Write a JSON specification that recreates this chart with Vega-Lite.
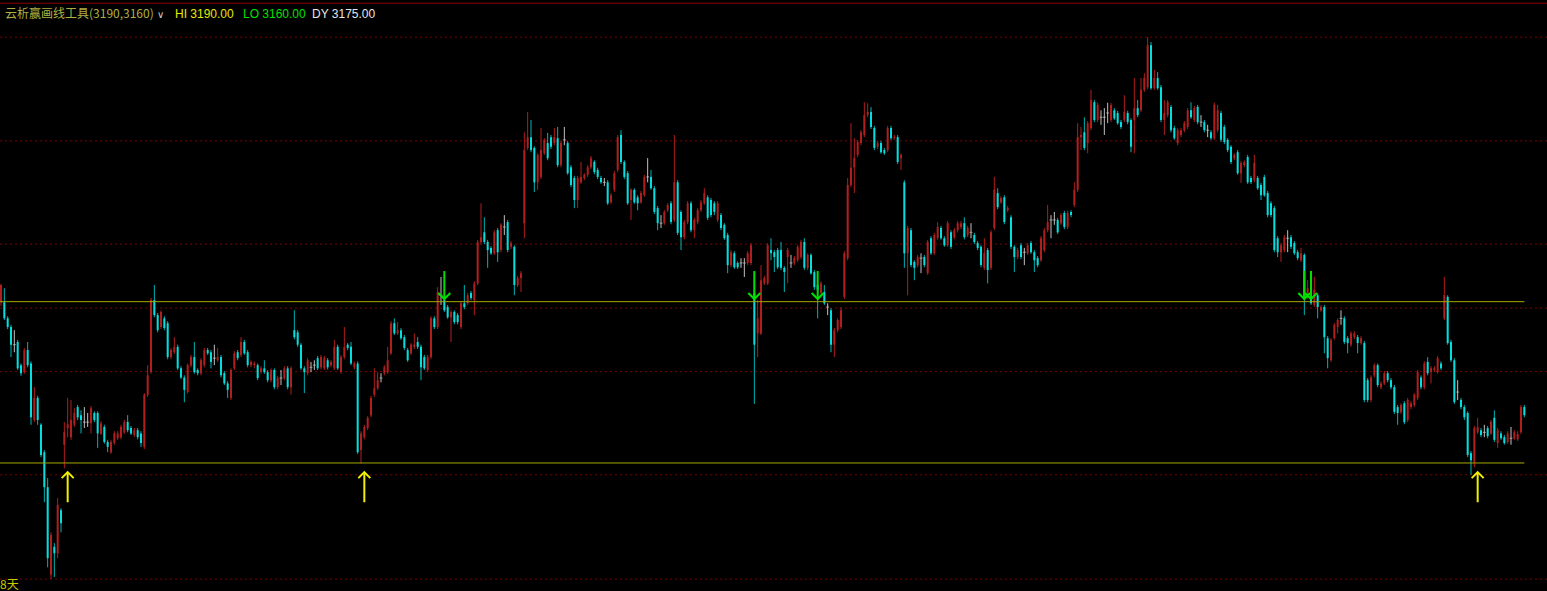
{
"$schema": "https://vega.github.io/schema/vega-lite/v6.json",
"width": 1547, "height": 591, "autosize": {"type": "none"}, "padding": 0,
"background": "#000000",
"config": {"view": {"stroke": null}, "scale": {"continuousPadding": 0}},
"datasets": {
"k": [
{"t":0,"o":3189.9,"h":3193.3,"l":3189.2,"c":3193.1},
{"t":1,"o":3189.9,"h":3192.5,"l":3186.6,"c":3186.9},
{"t":2,"o":3186.9,"h":3187.3,"l":3184.9,"c":3185.3},
{"t":3,"o":3185.3,"h":3185.7,"l":3179.7,"c":3182.0},
{"t":4,"o":3182.0,"h":3184.7,"l":3180.6,"c":3182.0},
{"t":5,"o":3182.5,"h":3182.9,"l":3177.3,"c":3177.6},
{"t":6,"o":3178.2,"h":3178.5,"l":3176.2,"c":3176.7},
{"t":7,"o":3176.9,"h":3181.4,"l":3176.6,"c":3181.0},
{"t":8,"o":3181.0,"h":3182.5,"l":3177.8,"c":3178.2},
{"t":9,"o":3178.5,"h":3178.9,"l":3167.1,"c":3168.5},
{"t":10,"o":3168.0,"h":3174.1,"l":3167.6,"c":3172.1},
{"t":11,"o":3172.1,"h":3172.5,"l":3167.1,"c":3168.0},
{"t":12,"o":3167.1,"h":3167.4,"l":3161.1,"c":3161.5},
{"t":13,"o":3162.0,"h":3162.4,"l":3152.7,"c":3155.5},
{"t":14,"o":3155.5,"h":3157.2,"l":3140.6,"c":3142.3},
{"t":15,"o":3139.2,"h":3147.1,"l":3138.4,"c":3146.6},
{"t":16,"o":3144.4,"h":3145.1,"l":3138.8,"c":3143.2},
{"t":17,"o":3143.2,"h":3153.5,"l":3142.3,"c":3152.2},
{"t":18,"o":3151.2,"h":3151.6,"l":3147.1,"c":3148.8},
{"t":19,"o":3163.4,"h":3167.6,"l":3159.0,"c":3165.7},
{"t":20,"o":3166.5,"h":3172.1,"l":3164.8,"c":3167.2},
{"t":21,"o":3164.8,"h":3171.7,"l":3164.3,"c":3168.0},
{"t":22,"o":3167.1,"h":3170.2,"l":3166.7,"c":3169.3},
{"t":23,"o":3170.4,"h":3170.8,"l":3168.0,"c":3168.5},
{"t":24,"o":3168.9,"h":3169.8,"l":3165.5,"c":3168.0},
{"t":25,"o":3167.6,"h":3170.4,"l":3166.5,"c":3167.6},
{"t":26,"o":3167.6,"h":3169.3,"l":3166.7,"c":3167.6},
{"t":27,"o":3167.4,"h":3170.6,"l":3165.5,"c":3170.2},
{"t":28,"o":3169.3,"h":3169.6,"l":3167.6,"c":3168.0},
{"t":29,"o":3169.3,"h":3169.6,"l":3162.8,"c":3165.5},
{"t":30,"o":3165.5,"h":3167.8,"l":3165.2,"c":3167.4},
{"t":31,"o":3166.7,"h":3167.1,"l":3163.6,"c":3163.9},
{"t":32,"o":3163.9,"h":3164.3,"l":3162.0,"c":3163.0},
{"t":33,"o":3162.0,"h":3164.3,"l":3161.7,"c":3163.9},
{"t":34,"o":3163.7,"h":3165.9,"l":3163.4,"c":3165.5},
{"t":35,"o":3164.6,"h":3165.9,"l":3164.3,"c":3165.5},
{"t":36,"o":3164.8,"h":3167.1,"l":3164.4,"c":3166.7},
{"t":37,"o":3165.7,"h":3168.0,"l":3165.4,"c":3167.6},
{"t":38,"o":3167.6,"h":3168.9,"l":3165.7,"c":3166.1},
{"t":39,"o":3166.5,"h":3166.9,"l":3165.2,"c":3165.5},
{"t":40,"o":3165.2,"h":3166.5,"l":3164.8,"c":3166.1},
{"t":41,"o":3166.1,"h":3166.5,"l":3164.4,"c":3164.8},
{"t":42,"o":3165.5,"h":3165.9,"l":3163.0,"c":3163.7},
{"t":43,"o":3163.0,"h":3173.0,"l":3162.6,"c":3172.7},
{"t":44,"o":3172.7,"h":3178.2,"l":3172.3,"c":3176.3},
{"t":45,"o":3176.9,"h":3190.7,"l":3176.6,"c":3190.3},
{"t":46,"o":3190.3,"h":3193.1,"l":3187.1,"c":3187.5},
{"t":47,"o":3187.5,"h":3187.9,"l":3184.3,"c":3184.7},
{"t":48,"o":3185.3,"h":3188.4,"l":3184.9,"c":3188.1},
{"t":49,"o":3186.9,"h":3187.3,"l":3184.7,"c":3185.1},
{"t":50,"o":3186.0,"h":3186.4,"l":3179.3,"c":3179.7},
{"t":51,"o":3179.7,"h":3181.4,"l":3179.3,"c":3181.0},
{"t":52,"o":3180.6,"h":3183.4,"l":3180.3,"c":3181.6},
{"t":53,"o":3181.6,"h":3182.0,"l":3177.3,"c":3177.6},
{"t":54,"o":3177.6,"h":3178.0,"l":3175.6,"c":3175.9},
{"t":55,"o":3175.9,"h":3176.3,"l":3171.3,"c":3173.6},
{"t":56,"o":3173.2,"h":3178.5,"l":3172.9,"c":3178.2},
{"t":57,"o":3178.2,"h":3180.1,"l":3177.8,"c":3179.7},
{"t":58,"o":3179.7,"h":3182.5,"l":3176.6,"c":3176.9},
{"t":59,"o":3177.3,"h":3177.6,"l":3176.3,"c":3176.7},
{"t":60,"o":3176.7,"h":3179.5,"l":3176.3,"c":3179.1},
{"t":61,"o":3178.2,"h":3181.4,"l":3177.8,"c":3181.0},
{"t":62,"o":3181.0,"h":3181.4,"l":3180.1,"c":3180.4},
{"t":63,"o":3180.6,"h":3181.0,"l":3177.6,"c":3178.8},
{"t":64,"o":3179.5,"h":3182.0,"l":3178.2,"c":3179.5},
{"t":65,"o":3179.1,"h":3181.4,"l":3178.8,"c":3179.7},
{"t":66,"o":3179.7,"h":3180.1,"l":3175.9,"c":3176.3},
{"t":67,"o":3176.7,"h":3177.1,"l":3174.5,"c":3174.8},
{"t":68,"o":3174.8,"h":3175.2,"l":3172.1,"c":3173.6},
{"t":69,"o":3172.1,"h":3177.6,"l":3171.7,"c":3177.3},
{"t":70,"o":3177.6,"h":3180.8,"l":3177.3,"c":3180.4},
{"t":71,"o":3180.6,"h":3181.0,"l":3179.1,"c":3179.5},
{"t":72,"o":3180.1,"h":3183.4,"l":3179.7,"c":3182.5},
{"t":73,"o":3182.5,"h":3182.9,"l":3180.1,"c":3180.4},
{"t":74,"o":3180.6,"h":3181.0,"l":3177.8,"c":3178.2},
{"t":75,"o":3178.2,"h":3179.1,"l":3177.8,"c":3178.8},
{"t":76,"o":3178.2,"h":3178.9,"l":3177.6,"c":3178.5},
{"t":77,"o":3178.2,"h":3178.5,"l":3175.4,"c":3175.8},
{"t":78,"o":3176.9,"h":3178.0,"l":3176.6,"c":3177.6},
{"t":79,"o":3177.6,"h":3179.1,"l":3176.6,"c":3176.9},
{"t":80,"o":3176.9,"h":3177.3,"l":3175.0,"c":3175.4},
{"t":81,"o":3175.4,"h":3177.6,"l":3175.0,"c":3177.3},
{"t":82,"o":3177.3,"h":3177.6,"l":3173.7,"c":3174.1},
{"t":83,"o":3174.1,"h":3176.2,"l":3173.7,"c":3175.8},
{"t":84,"o":3175.8,"h":3177.3,"l":3174.5,"c":3175.8},
{"t":85,"o":3175.8,"h":3178.0,"l":3175.4,"c":3177.6},
{"t":86,"o":3177.6,"h":3178.0,"l":3173.7,"c":3174.1},
{"t":87,"o":3174.1,"h":3178.0,"l":3172.7,"c":3177.6},
{"t":88,"o":3184.7,"h":3188.4,"l":3183.0,"c":3183.4},
{"t":89,"o":3184.3,"h":3184.7,"l":3181.6,"c":3182.0},
{"t":90,"o":3182.0,"h":3182.3,"l":3177.3,"c":3177.6},
{"t":91,"o":3177.6,"h":3178.0,"l":3173.0,"c":3176.9},
{"t":92,"o":3176.7,"h":3179.5,"l":3176.3,"c":3179.1},
{"t":93,"o":3177.8,"h":3178.8,"l":3176.9,"c":3177.8},
{"t":94,"o":3178.2,"h":3179.1,"l":3177.3,"c":3178.2},
{"t":95,"o":3179.5,"h":3179.9,"l":3177.3,"c":3177.6},
{"t":96,"o":3177.8,"h":3180.1,"l":3177.4,"c":3179.7},
{"t":97,"o":3177.6,"h":3179.9,"l":3177.3,"c":3179.5},
{"t":98,"o":3179.1,"h":3179.5,"l":3177.4,"c":3177.8},
{"t":99,"o":3178.2,"h":3179.1,"l":3177.8,"c":3178.8},
{"t":100,"o":3177.6,"h":3182.9,"l":3177.3,"c":3181.6},
{"t":101,"o":3181.6,"h":3182.0,"l":3177.3,"c":3177.6},
{"t":102,"o":3176.9,"h":3180.1,"l":3176.6,"c":3179.7},
{"t":103,"o":3179.7,"h":3185.3,"l":3179.3,"c":3181.6},
{"t":104,"o":3182.0,"h":3182.3,"l":3181.0,"c":3181.4},
{"t":105,"o":3181.6,"h":3182.5,"l":3178.2,"c":3178.5},
{"t":106,"o":3177.8,"h":3178.9,"l":3177.4,"c":3178.5},
{"t":107,"o":3178.5,"h":3178.9,"l":3161.7,"c":3162.0},
{"t":108,"o":3162.4,"h":3165.9,"l":3159.9,"c":3165.5},
{"t":109,"o":3164.8,"h":3167.1,"l":3164.4,"c":3166.7},
{"t":110,"o":3166.5,"h":3168.7,"l":3166.1,"c":3168.4},
{"t":111,"o":3168.9,"h":3172.5,"l":3168.5,"c":3172.1},
{"t":112,"o":3172.7,"h":3177.6,"l":3172.3,"c":3173.9},
{"t":113,"o":3173.9,"h":3176.9,"l":3173.6,"c":3175.4},
{"t":114,"o":3175.8,"h":3176.7,"l":3175.0,"c":3175.8},
{"t":115,"o":3176.7,"h":3178.2,"l":3176.3,"c":3177.8},
{"t":116,"o":3176.9,"h":3181.6,"l":3176.6,"c":3179.1},
{"t":117,"o":3180.4,"h":3186.4,"l":3180.1,"c":3186.0},
{"t":118,"o":3186.0,"h":3186.9,"l":3183.8,"c":3184.1},
{"t":119,"o":3184.1,"h":3186.2,"l":3183.8,"c":3184.7},
{"t":120,"o":3184.7,"h":3185.1,"l":3182.9,"c":3183.2},
{"t":121,"o":3183.4,"h":3183.8,"l":3181.0,"c":3181.4},
{"t":122,"o":3181.0,"h":3181.4,"l":3178.8,"c":3179.1},
{"t":123,"o":3180.4,"h":3182.3,"l":3180.1,"c":3182.0},
{"t":124,"o":3181.6,"h":3184.1,"l":3181.2,"c":3182.0},
{"t":125,"o":3182.5,"h":3183.4,"l":3181.2,"c":3181.6},
{"t":126,"o":3181.6,"h":3182.0,"l":3175.4,"c":3177.8},
{"t":127,"o":3179.7,"h":3180.1,"l":3177.3,"c":3177.6},
{"t":128,"o":3177.3,"h":3180.1,"l":3176.9,"c":3179.7},
{"t":129,"o":3179.7,"h":3187.3,"l":3179.3,"c":3186.9},
{"t":130,"o":3186.9,"h":3187.3,"l":3184.9,"c":3185.3},
{"t":131,"o":3185.3,"h":3192.7,"l":3184.9,"c":3191.8},
{"t":132,"o":3191.2,"h":3194.6,"l":3189.4,"c":3191.2},
{"t":133,"o":3190.3,"h":3190.7,"l":3188.1,"c":3188.4},
{"t":134,"o":3189.0,"h":3189.4,"l":3186.8,"c":3187.1},
{"t":135,"o":3187.1,"h":3188.4,"l":3182.5,"c":3188.1},
{"t":136,"o":3188.1,"h":3188.4,"l":3185.8,"c":3186.2},
{"t":137,"o":3187.5,"h":3187.9,"l":3185.8,"c":3186.2},
{"t":138,"o":3185.3,"h":3190.1,"l":3184.9,"c":3189.7},
{"t":139,"o":3189.7,"h":3193.1,"l":3188.6,"c":3189.0},
{"t":140,"o":3189.7,"h":3191.6,"l":3189.4,"c":3191.2},
{"t":141,"o":3191.6,"h":3192.0,"l":3190.3,"c":3190.7},
{"t":142,"o":3190.3,"h":3193.8,"l":3187.5,"c":3193.4},
{"t":143,"o":3193.4,"h":3201.5,"l":3193.1,"c":3201.1},
{"t":144,"o":3201.1,"h":3208.3,"l":3200.7,"c":3202.0},
{"t":145,"o":3202.9,"h":3205.7,"l":3200.7,"c":3201.1},
{"t":146,"o":3201.1,"h":3201.5,"l":3196.3,"c":3199.6},
{"t":147,"o":3200.0,"h":3200.3,"l":3198.7,"c":3199.0},
{"t":148,"o":3199.0,"h":3203.3,"l":3198.7,"c":3202.9},
{"t":149,"o":3203.3,"h":3203.7,"l":3197.4,"c":3199.2},
{"t":150,"o":3199.6,"h":3204.6,"l":3199.2,"c":3204.3},
{"t":151,"o":3203.9,"h":3206.1,"l":3202.4,"c":3203.9},
{"t":152,"o":3204.8,"h":3205.2,"l":3199.2,"c":3199.6},
{"t":153,"o":3200.2,"h":3201.3,"l":3199.8,"c":3200.9},
{"t":154,"o":3200.2,"h":3200.5,"l":3191.2,"c":3193.1},
{"t":155,"o":3193.1,"h":3194.8,"l":3192.7,"c":3194.4},
{"t":156,"o":3194.4,"h":3195.7,"l":3191.8,"c":3195.3},
{"t":157,"o":3204.6,"h":3221.5,"l":3201.8,"c":3218.2},
{"t":158,"o":3218.6,"h":3225.3,"l":3218.2,"c":3220.6},
{"t":159,"o":3220.6,"h":3223.8,"l":3217.8,"c":3218.2},
{"t":160,"o":3218.6,"h":3218.9,"l":3210.4,"c":3212.2},
{"t":161,"o":3212.2,"h":3217.6,"l":3210.8,"c":3217.3},
{"t":162,"o":3213.2,"h":3222.3,"l":3212.8,"c":3218.2},
{"t":163,"o":3217.6,"h":3220.4,"l":3217.3,"c":3220.1},
{"t":164,"o":3219.5,"h":3221.4,"l":3216.3,"c":3216.7},
{"t":165,"o":3220.6,"h":3221.0,"l":3218.4,"c":3218.8},
{"t":166,"o":3219.5,"h":3222.3,"l":3219.1,"c":3220.6},
{"t":167,"o":3220.4,"h":3222.5,"l":3215.0,"c":3215.4},
{"t":168,"o":3215.4,"h":3219.9,"l":3215.0,"c":3219.5},
{"t":169,"o":3220.1,"h":3222.5,"l":3219.1,"c":3220.1},
{"t":170,"o":3219.5,"h":3219.9,"l":3213.6,"c":3213.9},
{"t":171,"o":3215.0,"h":3215.4,"l":3211.3,"c":3211.7},
{"t":172,"o":3213.0,"h":3213.4,"l":3207.4,"c":3208.9},
{"t":173,"o":3208.9,"h":3213.4,"l":3207.4,"c":3213.0},
{"t":174,"o":3212.2,"h":3216.0,"l":3211.9,"c":3213.2},
{"t":175,"o":3213.0,"h":3213.9,"l":3212.6,"c":3213.6},
{"t":176,"o":3213.6,"h":3215.4,"l":3213.2,"c":3215.0},
{"t":177,"o":3215.0,"h":3217.1,"l":3214.7,"c":3216.7},
{"t":178,"o":3216.0,"h":3216.3,"l":3213.7,"c":3214.1},
{"t":179,"o":3214.5,"h":3214.9,"l":3212.8,"c":3213.2},
{"t":180,"o":3213.0,"h":3213.4,"l":3211.9,"c":3212.2},
{"t":181,"o":3212.2,"h":3213.0,"l":3211.5,"c":3212.2},
{"t":182,"o":3212.2,"h":3212.6,"l":3208.0,"c":3208.3},
{"t":183,"o":3208.5,"h":3210.2,"l":3208.2,"c":3209.8},
{"t":184,"o":3210.8,"h":3214.3,"l":3210.4,"c":3213.9},
{"t":185,"o":3214.5,"h":3221.0,"l":3214.1,"c":3220.6},
{"t":186,"o":3221.0,"h":3221.9,"l":3215.6,"c":3216.0},
{"t":187,"o":3216.0,"h":3216.3,"l":3212.8,"c":3213.2},
{"t":188,"o":3213.9,"h":3214.3,"l":3208.0,"c":3208.3},
{"t":189,"o":3208.9,"h":3211.1,"l":3205.2,"c":3210.8},
{"t":190,"o":3210.8,"h":3211.1,"l":3208.2,"c":3208.5},
{"t":191,"o":3209.4,"h":3209.8,"l":3207.0,"c":3208.3},
{"t":192,"o":3208.5,"h":3210.6,"l":3208.2,"c":3210.2},
{"t":193,"o":3209.8,"h":3213.6,"l":3209.5,"c":3213.2},
{"t":194,"o":3213.2,"h":3216.7,"l":3212.2,"c":3213.2},
{"t":195,"o":3213.2,"h":3214.5,"l":3210.8,"c":3211.1},
{"t":196,"o":3211.1,"h":3211.5,"l":3206.3,"c":3206.7},
{"t":197,"o":3207.4,"h":3207.8,"l":3203.3,"c":3204.6},
{"t":198,"o":3204.6,"h":3206.1,"l":3203.7,"c":3204.6},
{"t":199,"o":3204.6,"h":3207.0,"l":3204.3,"c":3206.7},
{"t":200,"o":3207.0,"h":3208.3,"l":3206.7,"c":3208.0},
{"t":201,"o":3208.3,"h":3208.7,"l":3204.4,"c":3204.8},
{"t":202,"o":3205.2,"h":3221.0,"l":3204.8,"c":3212.2},
{"t":203,"o":3212.2,"h":3212.6,"l":3202.4,"c":3202.8},
{"t":204,"o":3206.7,"h":3207.0,"l":3199.6,"c":3202.0},
{"t":205,"o":3202.0,"h":3205.2,"l":3201.6,"c":3204.8},
{"t":206,"o":3204.8,"h":3208.7,"l":3204.4,"c":3208.3},
{"t":207,"o":3208.3,"h":3208.7,"l":3202.9,"c":3203.3},
{"t":208,"o":3203.3,"h":3205.6,"l":3201.8,"c":3205.2},
{"t":209,"o":3204.8,"h":3207.4,"l":3204.4,"c":3207.0},
{"t":210,"o":3207.0,"h":3208.9,"l":3206.7,"c":3208.5},
{"t":211,"o":3208.3,"h":3211.1,"l":3208.0,"c":3210.2},
{"t":212,"o":3209.4,"h":3209.8,"l":3205.2,"c":3205.6},
{"t":213,"o":3208.9,"h":3209.3,"l":3205.7,"c":3206.1},
{"t":214,"o":3208.3,"h":3208.7,"l":3206.1,"c":3206.7},
{"t":215,"o":3205.2,"h":3208.7,"l":3204.8,"c":3208.3},
{"t":216,"o":3206.1,"h":3206.5,"l":3203.3,"c":3203.7},
{"t":217,"o":3204.3,"h":3204.6,"l":3201.5,"c":3201.8},
{"t":218,"o":3202.4,"h":3202.8,"l":3195.3,"c":3196.8},
{"t":219,"o":3196.8,"h":3199.6,"l":3196.4,"c":3199.2},
{"t":220,"o":3199.0,"h":3199.4,"l":3196.1,"c":3196.4},
{"t":221,"o":3197.2,"h":3197.5,"l":3196.1,"c":3196.4},
{"t":222,"o":3197.2,"h":3198.1,"l":3196.3,"c":3197.2},
{"t":223,"o":3197.2,"h":3198.1,"l":3194.6,"c":3197.2},
{"t":224,"o":3197.2,"h":3199.4,"l":3196.8,"c":3199.0},
{"t":225,"o":3197.2,"h":3200.9,"l":3196.8,"c":3200.5},
{"t":226,"o":3191.6,"h":3195.5,"l":3171.0,"c":3182.0},
{"t":227,"o":3184.1,"h":3190.3,"l":3179.7,"c":3186.9},
{"t":228,"o":3184.1,"h":3196.8,"l":3183.8,"c":3194.0},
{"t":229,"o":3193.4,"h":3194.8,"l":3193.1,"c":3194.4},
{"t":230,"o":3193.4,"h":3200.9,"l":3193.1,"c":3200.5},
{"t":231,"o":3199.6,"h":3201.8,"l":3197.7,"c":3199.0},
{"t":232,"o":3199.2,"h":3199.6,"l":3195.5,"c":3198.3},
{"t":233,"o":3199.6,"h":3200.0,"l":3196.1,"c":3196.4},
{"t":234,"o":3199.6,"h":3201.1,"l":3195.9,"c":3196.3},
{"t":235,"o":3196.3,"h":3196.6,"l":3191.8,"c":3195.5},
{"t":236,"o":3198.3,"h":3200.0,"l":3193.4,"c":3199.6},
{"t":237,"o":3197.2,"h":3198.7,"l":3196.3,"c":3197.2},
{"t":238,"o":3197.2,"h":3198.5,"l":3196.8,"c":3198.1},
{"t":239,"o":3197.7,"h":3200.5,"l":3197.4,"c":3200.2},
{"t":240,"o":3198.3,"h":3201.5,"l":3197.9,"c":3201.1},
{"t":241,"o":3201.1,"h":3201.8,"l":3195.9,"c":3196.3},
{"t":242,"o":3196.3,"h":3199.0,"l":3195.9,"c":3198.7},
{"t":243,"o":3198.7,"h":3199.0,"l":3195.0,"c":3195.3},
{"t":244,"o":3195.5,"h":3195.9,"l":3192.2,"c":3192.7},
{"t":245,"o":3193.1,"h":3193.4,"l":3186.9,"c":3192.2},
{"t":246,"o":3191.6,"h":3193.8,"l":3191.2,"c":3193.4},
{"t":247,"o":3191.8,"h":3193.1,"l":3189.4,"c":3189.7},
{"t":248,"o":3189.0,"h":3189.7,"l":3187.5,"c":3189.0},
{"t":249,"o":3188.4,"h":3188.8,"l":3180.6,"c":3182.0},
{"t":250,"o":3182.0,"h":3185.1,"l":3179.7,"c":3184.7},
{"t":251,"o":3184.7,"h":3186.9,"l":3184.3,"c":3186.6},
{"t":252,"o":3185.3,"h":3189.0,"l":3184.9,"c":3188.4},
{"t":253,"o":3190.9,"h":3199.4,"l":3190.5,"c":3199.0},
{"t":254,"o":3198.1,"h":3213.0,"l":3197.7,"c":3211.7},
{"t":255,"o":3211.7,"h":3223.2,"l":3211.3,"c":3214.9},
{"t":256,"o":3215.0,"h":3220.4,"l":3210.2,"c":3216.7},
{"t":257,"o":3217.3,"h":3220.1,"l":3216.9,"c":3219.7},
{"t":258,"o":3219.5,"h":3221.9,"l":3219.1,"c":3221.5},
{"t":259,"o":3221.0,"h":3227.1,"l":3220.6,"c":3224.7},
{"t":260,"o":3224.7,"h":3226.9,"l":3224.3,"c":3225.3},
{"t":261,"o":3225.3,"h":3226.2,"l":3222.1,"c":3222.5},
{"t":262,"o":3222.3,"h":3222.7,"l":3218.2,"c":3218.6},
{"t":263,"o":3218.8,"h":3219.9,"l":3218.4,"c":3219.5},
{"t":264,"o":3219.5,"h":3219.9,"l":3217.5,"c":3217.8},
{"t":265,"o":3218.2,"h":3218.6,"l":3217.3,"c":3217.6},
{"t":266,"o":3218.2,"h":3222.7,"l":3217.8,"c":3222.3},
{"t":267,"o":3222.3,"h":3222.7,"l":3220.1,"c":3220.4},
{"t":268,"o":3220.4,"h":3221.0,"l":3220.1,"c":3220.6},
{"t":269,"o":3220.6,"h":3221.0,"l":3215.6,"c":3216.0},
{"t":270,"o":3216.7,"h":3217.6,"l":3214.5,"c":3217.3},
{"t":271,"o":3212.2,"h":3212.6,"l":3196.3,"c":3199.0},
{"t":272,"o":3199.0,"h":3204.1,"l":3191.2,"c":3203.7},
{"t":273,"o":3203.3,"h":3203.7,"l":3196.4,"c":3196.8},
{"t":274,"o":3197.4,"h":3197.7,"l":3194.0,"c":3196.3},
{"t":275,"o":3196.8,"h":3198.7,"l":3196.4,"c":3198.3},
{"t":276,"o":3198.1,"h":3199.0,"l":3195.3,"c":3198.1},
{"t":277,"o":3198.3,"h":3198.7,"l":3196.4,"c":3196.8},
{"t":278,"o":3195.3,"h":3201.5,"l":3195.0,"c":3201.1},
{"t":279,"o":3201.8,"h":3202.2,"l":3198.7,"c":3199.0},
{"t":280,"o":3199.0,"h":3202.8,"l":3198.7,"c":3202.4},
{"t":281,"o":3201.8,"h":3204.8,"l":3201.5,"c":3203.9},
{"t":282,"o":3203.7,"h":3204.1,"l":3201.5,"c":3201.8},
{"t":283,"o":3201.8,"h":3202.2,"l":3200.2,"c":3200.5},
{"t":284,"o":3200.5,"h":3205.0,"l":3200.2,"c":3204.6},
{"t":285,"o":3202.9,"h":3203.3,"l":3199.8,"c":3200.2},
{"t":286,"o":3202.0,"h":3203.7,"l":3201.6,"c":3203.3},
{"t":287,"o":3203.3,"h":3205.0,"l":3202.9,"c":3204.6},
{"t":288,"o":3203.9,"h":3205.0,"l":3203.5,"c":3204.6},
{"t":289,"o":3204.6,"h":3205.7,"l":3201.6,"c":3202.0},
{"t":290,"o":3202.4,"h":3204.1,"l":3202.0,"c":3203.7},
{"t":291,"o":3202.9,"h":3204.6,"l":3201.8,"c":3202.9},
{"t":292,"o":3202.4,"h":3202.8,"l":3200.7,"c":3201.1},
{"t":293,"o":3200.9,"h":3201.3,"l":3199.6,"c":3200.0},
{"t":294,"o":3200.2,"h":3200.5,"l":3196.4,"c":3196.8},
{"t":295,"o":3196.3,"h":3201.8,"l":3195.9,"c":3199.0},
{"t":296,"o":3199.6,"h":3200.0,"l":3193.4,"c":3195.9},
{"t":297,"o":3196.3,"h":3203.3,"l":3195.9,"c":3202.9},
{"t":298,"o":3203.7,"h":3213.2,"l":3203.3,"c":3210.8},
{"t":299,"o":3210.2,"h":3211.1,"l":3207.2,"c":3207.6},
{"t":300,"o":3208.5,"h":3209.6,"l":3208.2,"c":3209.3},
{"t":301,"o":3209.4,"h":3209.8,"l":3204.4,"c":3204.8},
{"t":302,"o":3207.0,"h":3207.8,"l":3206.7,"c":3207.4},
{"t":303,"o":3205.7,"h":3206.1,"l":3199.8,"c":3200.2},
{"t":304,"o":3200.2,"h":3200.5,"l":3195.5,"c":3198.3},
{"t":305,"o":3198.3,"h":3200.0,"l":3197.9,"c":3199.6},
{"t":306,"o":3200.5,"h":3200.9,"l":3197.9,"c":3198.3},
{"t":307,"o":3199.2,"h":3200.0,"l":3196.8,"c":3199.2},
{"t":308,"o":3199.0,"h":3200.9,"l":3198.7,"c":3200.5},
{"t":309,"o":3200.9,"h":3201.3,"l":3198.9,"c":3199.2},
{"t":310,"o":3199.2,"h":3199.6,"l":3195.5,"c":3197.7},
{"t":311,"o":3198.1,"h":3198.5,"l":3196.4,"c":3196.8},
{"t":312,"o":3197.7,"h":3202.2,"l":3197.4,"c":3201.8},
{"t":313,"o":3199.6,"h":3203.7,"l":3199.2,"c":3203.3},
{"t":314,"o":3203.3,"h":3208.0,"l":3202.9,"c":3204.8},
{"t":315,"o":3205.2,"h":3206.1,"l":3201.8,"c":3205.2},
{"t":316,"o":3205.2,"h":3206.7,"l":3204.3,"c":3205.2},
{"t":317,"o":3205.2,"h":3205.6,"l":3202.6,"c":3202.9},
{"t":318,"o":3204.6,"h":3206.5,"l":3204.3,"c":3206.1},
{"t":319,"o":3206.5,"h":3206.9,"l":3203.5,"c":3203.9},
{"t":320,"o":3203.9,"h":3206.9,"l":3203.5,"c":3206.5},
{"t":321,"o":3206.7,"h":3207.0,"l":3205.7,"c":3206.1},
{"t":322,"o":3208.0,"h":3212.2,"l":3207.6,"c":3210.8},
{"t":323,"o":3210.8,"h":3223.2,"l":3210.4,"c":3220.6},
{"t":324,"o":3220.6,"h":3222.5,"l":3218.2,"c":3221.0},
{"t":325,"o":3221.5,"h":3224.3,"l":3218.2,"c":3218.6},
{"t":326,"o":3219.5,"h":3223.6,"l":3217.6,"c":3223.2},
{"t":327,"o":3222.3,"h":3229.4,"l":3221.9,"c":3227.5},
{"t":328,"o":3227.1,"h":3227.5,"l":3223.4,"c":3223.8},
{"t":329,"o":3223.8,"h":3227.0,"l":3223.4,"c":3226.6},
{"t":330,"o":3224.3,"h":3225.6,"l":3222.9,"c":3224.3},
{"t":331,"o":3224.3,"h":3226.0,"l":3221.0,"c":3224.3},
{"t":332,"o":3225.1,"h":3227.0,"l":3223.2,"c":3225.1},
{"t":333,"o":3223.8,"h":3227.0,"l":3223.4,"c":3226.6},
{"t":334,"o":3225.6,"h":3226.0,"l":3223.8,"c":3224.1},
{"t":335,"o":3225.1,"h":3225.5,"l":3222.9,"c":3223.2},
{"t":336,"o":3223.4,"h":3223.8,"l":3222.1,"c":3222.5},
{"t":337,"o":3223.8,"h":3228.4,"l":3223.4,"c":3225.3},
{"t":338,"o":3225.1,"h":3225.5,"l":3223.0,"c":3223.4},
{"t":339,"o":3223.8,"h":3224.1,"l":3217.8,"c":3218.8},
{"t":340,"o":3223.8,"h":3231.6,"l":3217.6,"c":3226.0},
{"t":341,"o":3226.0,"h":3227.5,"l":3224.3,"c":3224.7},
{"t":342,"o":3225.6,"h":3231.6,"l":3225.3,"c":3229.4},
{"t":343,"o":3229.4,"h":3232.5,"l":3229.0,"c":3231.6},
{"t":344,"o":3229.9,"h":3239.2,"l":3229.5,"c":3237.7},
{"t":345,"o":3237.7,"h":3238.3,"l":3229.4,"c":3229.7},
{"t":346,"o":3229.7,"h":3233.1,"l":3229.4,"c":3231.6},
{"t":347,"o":3231.6,"h":3232.7,"l":3229.4,"c":3229.7},
{"t":348,"o":3229.9,"h":3230.3,"l":3223.4,"c":3223.8},
{"t":349,"o":3223.8,"h":3227.5,"l":3221.0,"c":3225.1},
{"t":350,"o":3224.7,"h":3227.5,"l":3224.3,"c":3227.1},
{"t":351,"o":3226.2,"h":3226.6,"l":3221.5,"c":3221.9},
{"t":352,"o":3222.3,"h":3222.7,"l":3220.1,"c":3220.4},
{"t":353,"o":3219.5,"h":3222.3,"l":3219.1,"c":3221.9},
{"t":354,"o":3221.0,"h":3222.3,"l":3220.6,"c":3221.9},
{"t":355,"o":3221.9,"h":3223.6,"l":3221.5,"c":3223.2},
{"t":356,"o":3222.5,"h":3226.0,"l":3222.1,"c":3225.6},
{"t":357,"o":3225.6,"h":3227.1,"l":3224.0,"c":3224.3},
{"t":358,"o":3223.8,"h":3226.4,"l":3223.4,"c":3226.0},
{"t":359,"o":3226.2,"h":3226.6,"l":3223.0,"c":3223.4},
{"t":360,"o":3223.4,"h":3224.7,"l":3222.5,"c":3223.4},
{"t":361,"o":3223.4,"h":3223.8,"l":3221.5,"c":3221.9},
{"t":362,"o":3221.9,"h":3222.9,"l":3220.6,"c":3221.9},
{"t":363,"o":3221.5,"h":3221.9,"l":3220.1,"c":3220.4},
{"t":364,"o":3220.4,"h":3227.0,"l":3220.1,"c":3226.6},
{"t":365,"o":3221.9,"h":3226.6,"l":3221.5,"c":3225.6},
{"t":366,"o":3225.1,"h":3225.5,"l":3219.7,"c":3220.1},
{"t":367,"o":3222.5,"h":3222.9,"l":3219.3,"c":3219.7},
{"t":368,"o":3220.1,"h":3220.4,"l":3217.8,"c":3218.2},
{"t":369,"o":3218.8,"h":3219.1,"l":3215.6,"c":3216.0},
{"t":370,"o":3216.7,"h":3217.6,"l":3216.3,"c":3217.3},
{"t":371,"o":3217.8,"h":3218.2,"l":3213.6,"c":3213.9},
{"t":372,"o":3213.9,"h":3216.2,"l":3212.1,"c":3215.8},
{"t":373,"o":3215.4,"h":3216.3,"l":3215.0,"c":3216.0},
{"t":374,"o":3216.9,"h":3217.3,"l":3211.9,"c":3212.2},
{"t":375,"o":3213.0,"h":3213.4,"l":3211.9,"c":3212.2},
{"t":376,"o":3212.6,"h":3217.3,"l":3212.2,"c":3215.8},
{"t":377,"o":3213.0,"h":3213.4,"l":3210.8,"c":3211.1},
{"t":378,"o":3211.7,"h":3212.1,"l":3208.9,"c":3209.8},
{"t":379,"o":3213.2,"h":3213.6,"l":3209.5,"c":3209.8},
{"t":380,"o":3210.2,"h":3210.6,"l":3205.7,"c":3206.1},
{"t":381,"o":3208.3,"h":3208.7,"l":3205.7,"c":3206.1},
{"t":382,"o":3207.4,"h":3207.8,"l":3199.2,"c":3199.6},
{"t":383,"o":3201.8,"h":3202.2,"l":3198.3,"c":3199.2},
{"t":384,"o":3199.2,"h":3200.9,"l":3197.4,"c":3200.5},
{"t":385,"o":3199.6,"h":3202.4,"l":3199.2,"c":3202.0},
{"t":386,"o":3201.8,"h":3203.3,"l":3199.2,"c":3201.8},
{"t":387,"o":3202.0,"h":3202.4,"l":3199.8,"c":3200.2},
{"t":388,"o":3200.9,"h":3201.3,"l":3198.7,"c":3199.0},
{"t":389,"o":3199.2,"h":3199.6,"l":3197.7,"c":3198.1},
{"t":390,"o":3197.7,"h":3200.0,"l":3197.4,"c":3199.0},
{"t":391,"o":3198.7,"h":3199.0,"l":3187.5,"c":3190.9},
{"t":392,"o":3190.9,"h":3194.0,"l":3190.5,"c":3192.5},
{"t":393,"o":3191.6,"h":3192.0,"l":3189.4,"c":3189.7},
{"t":394,"o":3189.4,"h":3194.6,"l":3189.0,"c":3192.2},
{"t":395,"o":3191.2,"h":3191.6,"l":3186.9,"c":3189.0},
{"t":396,"o":3188.4,"h":3189.4,"l":3188.1,"c":3189.0},
{"t":397,"o":3189.0,"h":3189.4,"l":3180.4,"c":3183.4},
{"t":398,"o":3183.2,"h":3183.6,"l":3177.6,"c":3179.5},
{"t":399,"o":3179.1,"h":3183.2,"l":3178.8,"c":3182.9},
{"t":400,"o":3183.2,"h":3186.0,"l":3182.9,"c":3185.7},
{"t":401,"o":3185.3,"h":3186.9,"l":3184.1,"c":3186.6},
{"t":402,"o":3186.9,"h":3188.4,"l":3185.7,"c":3186.9},
{"t":403,"o":3186.9,"h":3187.3,"l":3182.1,"c":3182.5},
{"t":404,"o":3183.2,"h":3183.6,"l":3180.4,"c":3182.3},
{"t":405,"o":3182.0,"h":3184.5,"l":3181.6,"c":3184.1},
{"t":406,"o":3183.4,"h":3184.5,"l":3183.0,"c":3184.1},
{"t":407,"o":3183.4,"h":3183.8,"l":3180.4,"c":3182.3},
{"t":408,"o":3182.3,"h":3183.6,"l":3182.0,"c":3183.2},
{"t":409,"o":3182.3,"h":3182.7,"l":3171.3,"c":3171.7},
{"t":410,"o":3175.4,"h":3175.8,"l":3171.3,"c":3171.7},
{"t":411,"o":3171.7,"h":3176.3,"l":3171.3,"c":3175.9},
{"t":412,"o":3176.3,"h":3178.5,"l":3175.9,"c":3178.2},
{"t":413,"o":3178.2,"h":3178.5,"l":3174.1,"c":3174.5},
{"t":414,"o":3174.1,"h":3175.2,"l":3173.7,"c":3174.8},
{"t":415,"o":3174.8,"h":3177.1,"l":3174.5,"c":3176.7},
{"t":416,"o":3176.7,"h":3177.1,"l":3175.0,"c":3175.4},
{"t":417,"o":3175.4,"h":3175.8,"l":3173.7,"c":3174.1},
{"t":418,"o":3174.1,"h":3174.5,"l":3169.1,"c":3169.5},
{"t":419,"o":3170.4,"h":3170.8,"l":3167.1,"c":3169.3},
{"t":420,"o":3169.5,"h":3171.1,"l":3169.1,"c":3170.8},
{"t":421,"o":3171.1,"h":3171.5,"l":3167.2,"c":3167.6},
{"t":422,"o":3168.0,"h":3172.1,"l":3167.6,"c":3171.7},
{"t":423,"o":3170.4,"h":3171.5,"l":3170.0,"c":3171.1},
{"t":424,"o":3170.8,"h":3173.0,"l":3170.4,"c":3172.7},
{"t":425,"o":3172.1,"h":3177.3,"l":3171.7,"c":3176.9},
{"t":426,"o":3175.9,"h":3176.3,"l":3173.7,"c":3174.1},
{"t":427,"o":3174.1,"h":3178.9,"l":3173.7,"c":3178.5},
{"t":428,"o":3178.8,"h":3179.7,"l":3176.3,"c":3176.7},
{"t":429,"o":3176.9,"h":3178.0,"l":3174.8,"c":3177.6},
{"t":430,"o":3177.3,"h":3178.0,"l":3176.9,"c":3177.6},
{"t":431,"o":3176.9,"h":3179.9,"l":3176.6,"c":3179.5},
{"t":432,"o":3178.5,"h":3178.9,"l":3177.3,"c":3177.6},
{"t":433,"o":3186.9,"h":3194.6,"l":3186.6,"c":3191.2},
{"t":434,"o":3190.9,"h":3191.2,"l":3182.0,"c":3182.3},
{"t":435,"o":3182.5,"h":3182.9,"l":3178.8,"c":3179.1},
{"t":436,"o":3179.1,"h":3179.5,"l":3171.0,"c":3171.3},
{"t":437,"o":3173.2,"h":3175.4,"l":3171.7,"c":3173.2},
{"t":438,"o":3171.7,"h":3172.1,"l":3170.0,"c":3170.4},
{"t":439,"o":3170.4,"h":3170.8,"l":3168.0,"c":3168.5},
{"t":440,"o":3169.3,"h":3169.6,"l":3161.1,"c":3161.5},
{"t":441,"o":3161.8,"h":3162.2,"l":3157.8,"c":3160.5},
{"t":442,"o":3160.2,"h":3166.9,"l":3159.2,"c":3166.5},
{"t":443,"o":3165.7,"h":3168.4,"l":3165.4,"c":3166.7},
{"t":444,"o":3166.1,"h":3166.5,"l":3164.8,"c":3165.2},
{"t":445,"o":3165.7,"h":3167.1,"l":3164.8,"c":3165.7},
{"t":446,"o":3166.5,"h":3166.9,"l":3164.6,"c":3165.0},
{"t":447,"o":3165.5,"h":3168.0,"l":3165.2,"c":3167.6},
{"t":448,"o":3168.4,"h":3169.8,"l":3163.9,"c":3164.3},
{"t":449,"o":3163.7,"h":3166.5,"l":3162.8,"c":3166.1},
{"t":450,"o":3165.5,"h":3165.9,"l":3164.3,"c":3164.6},
{"t":451,"o":3164.8,"h":3165.2,"l":3163.4,"c":3163.7},
{"t":452,"o":3163.9,"h":3165.9,"l":3163.6,"c":3165.5},
{"t":453,"o":3164.6,"h":3166.7,"l":3163.4,"c":3164.6},
{"t":454,"o":3164.6,"h":3166.1,"l":3164.3,"c":3165.7},
{"t":455,"o":3164.4,"h":3165.9,"l":3164.1,"c":3165.4},
{"t":456,"o":3165.7,"h":3170.8,"l":3165.4,"c":3170.4},
{"t":457,"o":3170.4,"h":3170.8,"l":3168.5,"c":3168.9}
],
"grid": [{"v":3239.2},{"v":3219.9},{"v":3200.7},{"v":3188.8},{"v":3177.0},{"v":3157.8},{"v":3138.4}],
"levels": [{"v":3190,"a":-0.3,"b":457},{"v":3160,"a":-0.3,"b":457}],
"down": [{"t":133,"top":3195.7,"tip":3190.5},{"t":226,"top":3195.7,"tip":3190.5},{"t":245,"top":3195.7,"tip":3190.5},{"t":391,"top":3195.7,"tip":3190.5},{"t":393,"top":3195.7,"tip":3190.5}],
"up": [{"t":20,"tip":3158.3,"bottom":3152.7},{"t":109,"tip":3158.3,"bottom":3152.7},{"t":443,"tip":3158.3,"bottom":3152.7}]
},
"layer": [
{"data": {"name": "grid"}, "mark": {"type": "rule", "color": "#7a0000", "strokeDash": [2, 3], "strokeWidth": 1},
 "encoding": {"y": {"field": "v", "type": "quantitative", "scale": {"domain": [3136.19, 3246.11], "nice": false, "zero": false}, "axis": null}}},
{"data": {"values": [{}]}, "mark": {"type": "rule", "color": "#8b0000", "strokeWidth": 1},
 "encoding": {"y": {"datum": 3245.5, "type": "quantitative", "scale": {"domain": [3136.19, 3246.11], "nice": false, "zero": false}, "axis": null}}},
{"data": {"name": "k"}, "mark": {"type": "rule", "strokeWidth": 1},
 "encoding": {
  "x": {"field": "t", "type": "quantitative", "scale": {"domain": [-0.3, 463.8], "nice": false, "zero": false, "padding": 0}, "axis": null},
  "y": {"field": "l", "type": "quantitative", "scale": {"domain": [3136.19, 3246.11], "nice": false, "zero": false}, "axis": null},
  "y2": {"field": "h"},
  "color": {"condition": [{"test": "datum.c > datum.o", "value": "#b01e1e"}, {"test": "datum.c == datum.o", "value": "#c0c0c0"}], "value": "#00b4b4"}}},
{"data": {"name": "k"}, "mark": {"type": "bar", "size": 2},
 "encoding": {
  "x": {"field": "t", "type": "quantitative", "scale": {"domain": [-0.3, 463.8], "nice": false, "zero": false, "padding": 0}, "axis": null},
  "y": {"field": "o", "type": "quantitative", "scale": {"domain": [3136.19, 3246.11], "nice": false, "zero": false}, "axis": null},
  "y2": {"field": "c"},
  "color": {"condition": [{"test": "datum.c > datum.o", "value": "#b01e1e"}, {"test": "datum.c == datum.o", "value": "#c0c0c0"}], "value": "#00e0e0"}}},
{"data": {"name": "k"}, "transform": [{"filter": "datum.c == datum.o"}], "mark": {"type": "tick", "orient": "horizontal", "size": 3, "thickness": 1, "color": "#c8c8c8"},
 "encoding": {
  "x": {"field": "t", "type": "quantitative", "scale": {"domain": [-0.3, 463.8], "nice": false, "zero": false, "padding": 0}, "axis": null},
  "y": {"field": "o", "type": "quantitative", "scale": {"domain": [3136.19, 3246.11], "nice": false, "zero": false}, "axis": null}}},
{"data": {"name": "levels"}, "mark": {"type": "rule", "color": "#a8a800", "strokeWidth": 1},
 "encoding": {
  "x": {"field": "a", "type": "quantitative", "scale": {"domain": [-0.3, 463.8], "nice": false, "zero": false, "padding": 0}, "axis": null},
  "x2": {"field": "b"},
  "y": {"field": "v", "type": "quantitative", "scale": {"domain": [3136.19, 3246.11], "nice": false, "zero": false}, "axis": null}}},
{"data": {"name": "down"}, "mark": {"type": "rule", "color": "#00e000", "strokeWidth": 2},
 "encoding": {
  "x": {"field": "t", "type": "quantitative", "scale": {"domain": [-0.3, 463.8], "nice": false, "zero": false, "padding": 0}, "axis": null},
  "y": {"field": "top", "type": "quantitative", "scale": {"domain": [3136.19, 3246.11], "nice": false, "zero": false}, "axis": null},
  "y2": {"field": "tip"}}},
{"data": {"name": "down"}, "mark": {"type": "point", "shape": "M-1,-1L0,0L1,-1", "filled": false, "size": 144, "strokeWidth": 2, "color": "#00e000", "opacity": 1},
 "encoding": {
  "x": {"field": "t", "type": "quantitative", "scale": {"domain": [-0.3, 463.8], "nice": false, "zero": false, "padding": 0}, "axis": null},
  "y": {"field": "tip", "type": "quantitative", "scale": {"domain": [3136.19, 3246.11], "nice": false, "zero": false}, "axis": null}}},
{"data": {"name": "up"}, "mark": {"type": "rule", "color": "#f0f000", "strokeWidth": 2},
 "encoding": {
  "x": {"field": "t", "type": "quantitative", "scale": {"domain": [-0.3, 463.8], "nice": false, "zero": false, "padding": 0}, "axis": null},
  "y": {"field": "tip", "type": "quantitative", "scale": {"domain": [3136.19, 3246.11], "nice": false, "zero": false}, "axis": null},
  "y2": {"field": "bottom"}}},
{"data": {"name": "up"}, "mark": {"type": "point", "shape": "M-1,1L0,0L1,1", "filled": false, "size": 144, "strokeWidth": 2, "color": "#f0f000", "opacity": 1},
 "encoding": {
  "x": {"field": "t", "type": "quantitative", "scale": {"domain": [-0.3, 463.8], "nice": false, "zero": false, "padding": 0}, "axis": null},
  "y": {"field": "tip", "type": "quantitative", "scale": {"domain": [3136.19, 3246.11], "nice": false, "zero": false}, "axis": null}}},
{"data": {"values": [{}]}, "mark": {"type": "text", "text": "云析赢画线工具(3190,3160)", "align": "left", "baseline": "alphabetic", "font": "Noto Sans CJK SC", "fontSize": 12, "color": "#b0b040"},
 "encoding": {"x": {"datum": 1.2, "type": "quantitative", "scale": {"domain": [-0.3, 463.8], "nice": false, "zero": false, "padding": 0}, "axis": null},
  "y": {"datum": 3242.8, "type": "quantitative", "scale": {"domain": [3136.19, 3246.11], "nice": false, "zero": false}, "axis": null}}},
{"data": {"values": [{}]}, "mark": {"type": "text", "text": "∨", "align": "left", "baseline": "alphabetic", "font": "DejaVu Sans", "fontSize": 10, "color": "#c8c8c8"},
 "encoding": {"x": {"datum": 46.8, "type": "quantitative", "scale": {"domain": [-0.3, 463.8], "nice": false, "zero": false, "padding": 0}, "axis": null},
  "y": {"datum": 3242.8, "type": "quantitative", "scale": {"domain": [3136.19, 3246.11], "nice": false, "zero": false}, "axis": null}}},
{"data": {"values": [{}]}, "mark": {"type": "text", "text": "HI 3190.00", "align": "left", "baseline": "alphabetic", "font": "Liberation Sans", "fontSize": 12, "color": "#e8e800"},
 "encoding": {"x": {"datum": 52.2, "type": "quantitative", "scale": {"domain": [-0.3, 463.8], "nice": false, "zero": false, "padding": 0}, "axis": null},
  "y": {"datum": 3242.8, "type": "quantitative", "scale": {"domain": [3136.19, 3246.11], "nice": false, "zero": false}, "axis": null}}},
{"data": {"values": [{}]}, "mark": {"type": "text", "text": "LO 3160.00", "align": "left", "baseline": "alphabetic", "font": "Liberation Sans", "fontSize": 12, "color": "#00e000"},
 "encoding": {"x": {"datum": 72.6, "type": "quantitative", "scale": {"domain": [-0.3, 463.8], "nice": false, "zero": false, "padding": 0}, "axis": null},
  "y": {"datum": 3242.8, "type": "quantitative", "scale": {"domain": [3136.19, 3246.11], "nice": false, "zero": false}, "axis": null}}},
{"data": {"values": [{}]}, "mark": {"type": "text", "text": "DY 3175.00", "align": "left", "baseline": "alphabetic", "font": "Liberation Sans", "fontSize": 12, "color": "#e6e6e6"},
 "encoding": {"x": {"datum": 93.3, "type": "quantitative", "scale": {"domain": [-0.3, 463.8], "nice": false, "zero": false, "padding": 0}, "axis": null},
  "y": {"datum": 3242.8, "type": "quantitative", "scale": {"domain": [3136.19, 3246.11], "nice": false, "zero": false}, "axis": null}}},
{"data": {"values": [{}]}, "mark": {"type": "text", "text": "8天", "align": "left", "baseline": "alphabetic", "font": "Noto Sans CJK SC", "fontSize": 12, "color": "#c8c800"},
 "encoding": {"x": {"datum": -0.3, "type": "quantitative", "scale": {"domain": [-0.3, 463.8], "nice": false, "zero": false, "padding": 0}, "axis": null},
  "y": {"datum": 3136.5, "type": "quantitative", "scale": {"domain": [3136.19, 3246.11], "nice": false, "zero": false}, "axis": null}}}
]
}
